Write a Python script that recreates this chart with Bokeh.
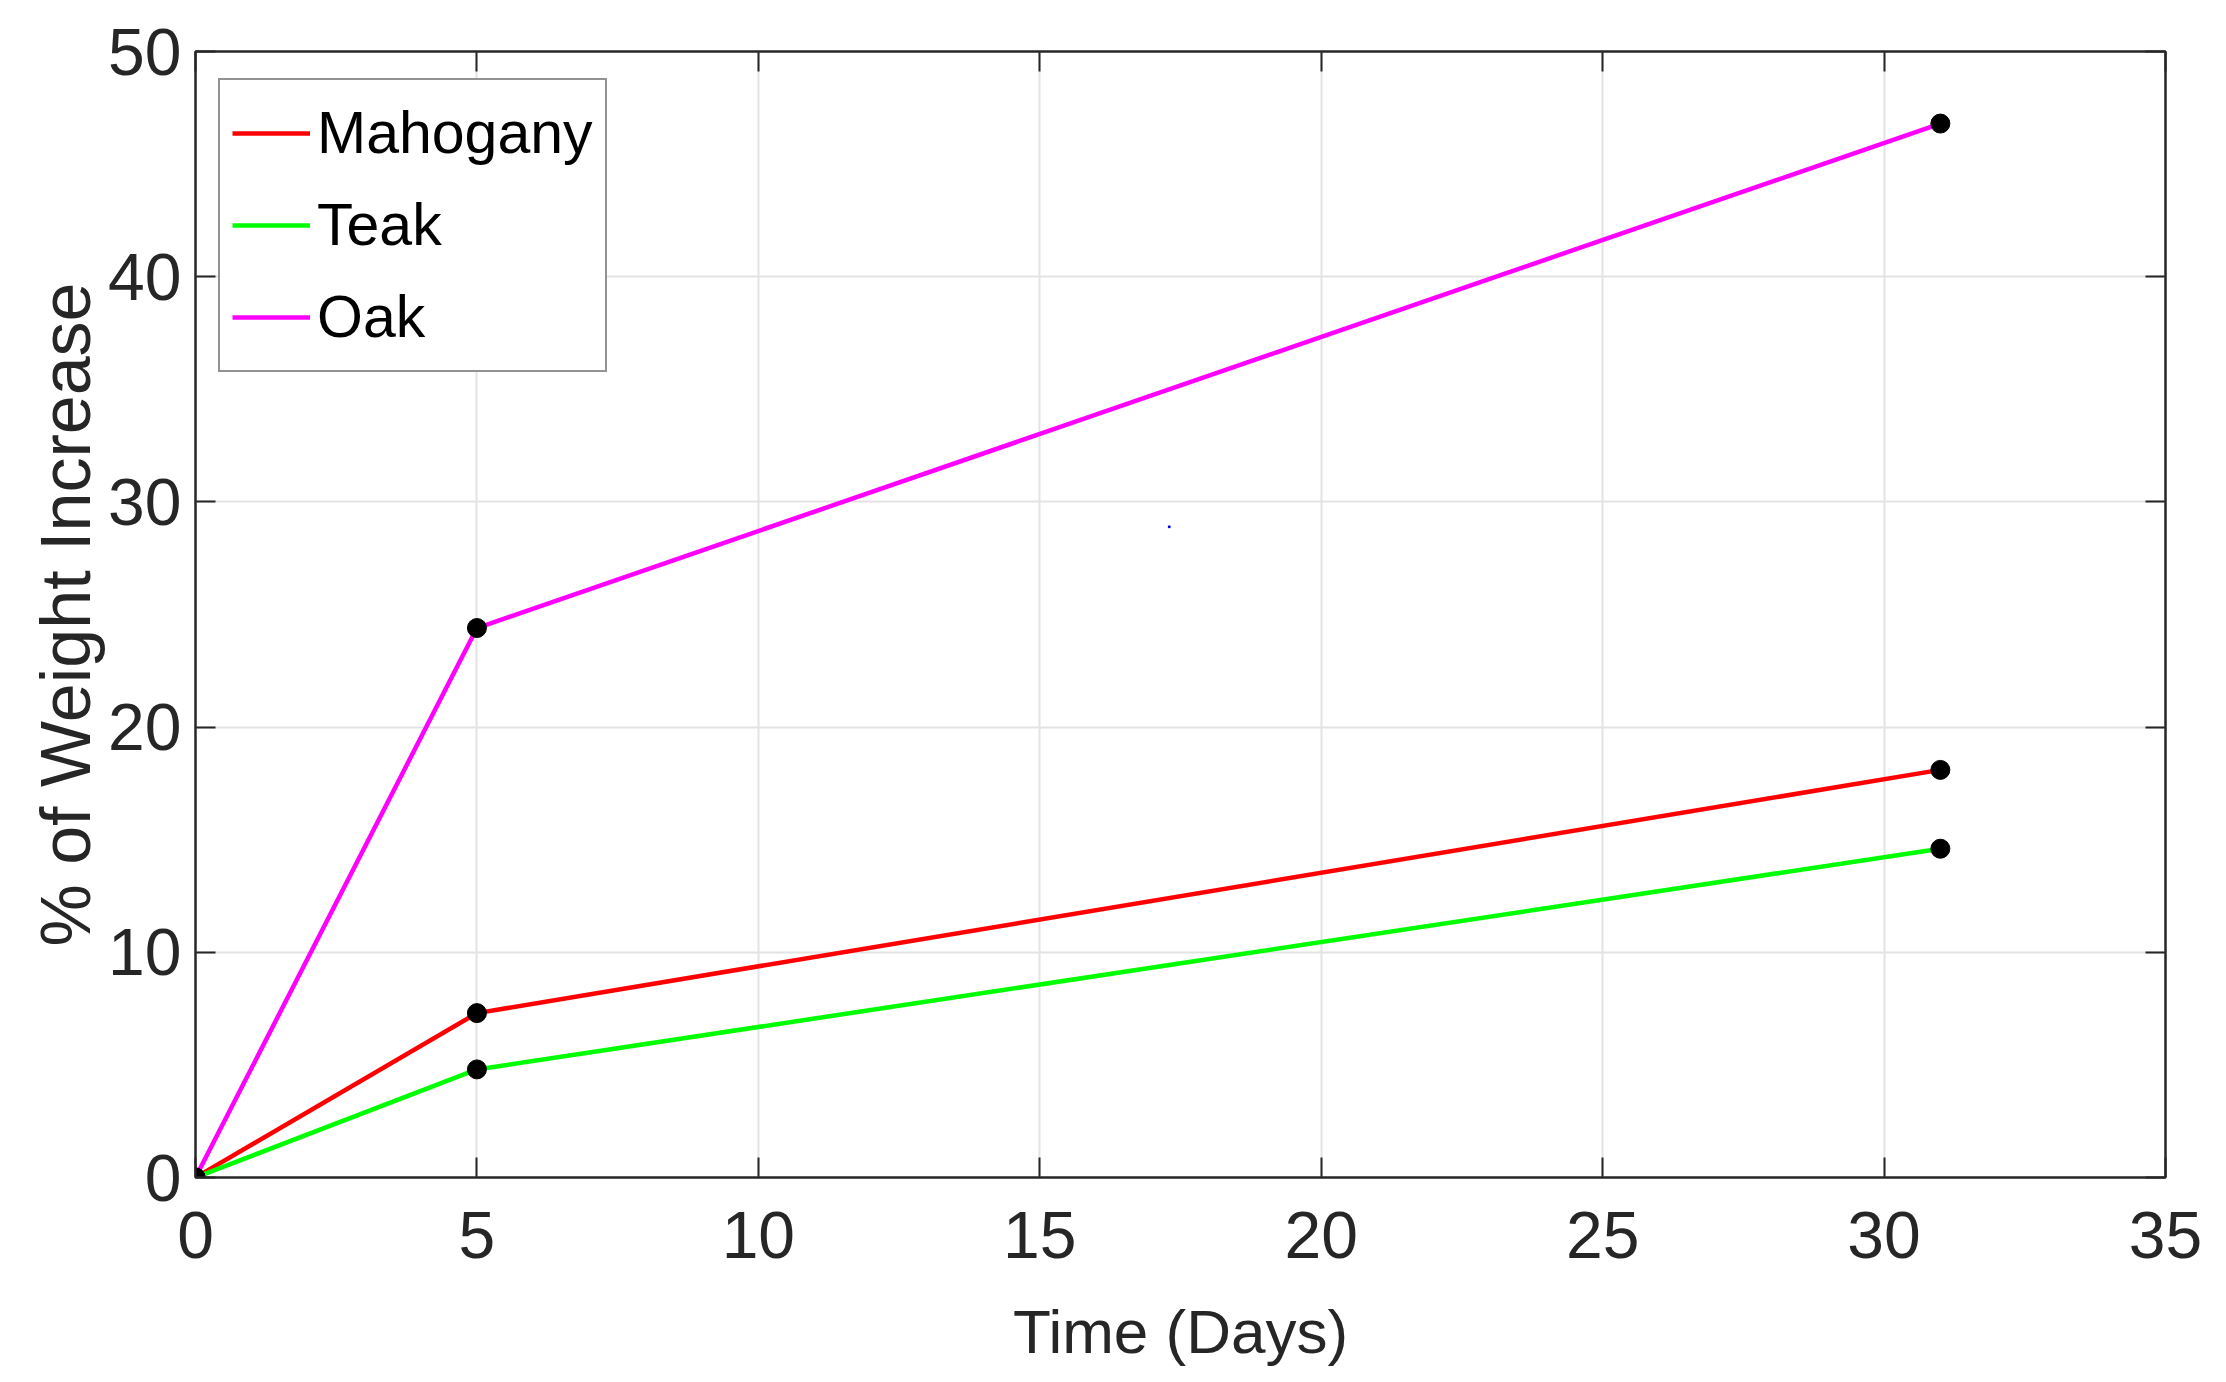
from bokeh.plotting import figure
from bokeh.models import Range1d, LinearAxis, FixedTicker, Legend, LegendItem, CustomLabelingPolicy
from bokeh.embed import file_html
from bokeh.resources import INLINE

days = [0, 5, 31]
mahogany = [0, 7.3, 18.1]
teak = [0, 4.8, 14.6]
oak = [0, 24.4, 46.8]
stray_x = [17.3]
stray_y = [28.9]
x_ticks = [0, 5, 10, 15, 20, 25, 30, 35]
y_ticks = [0, 10, 20, 30, 40, 50]

FONT = "Liberation Sans"
DARK = "#262626"

p = figure(frame_width=1970, frame_height=1126, output_backend="svg", toolbar_location=None,
           x_range=Range1d(0, 35), y_range=Range1d(0, 50),
           min_border_left=195, min_border_right=40, min_border_top=51, min_border_bottom=190)
p.outline_line_color = DARK
p.outline_line_width = 2

r1 = p.line(days, mahogany, line_color="#ff0000", line_width=4.5)
r2 = p.line(days, teak, line_color="#00ff00", line_width=4.5)
r3 = p.line(days, oak, line_color="#ff00ff", line_width=4.5)
for ys in (mahogany, teak, oak):
    p.scatter(days, ys, size=19, fill_color="black", line_color="black")
p.scatter(stray_x, stray_y, size=3, fill_color="blue", line_color=None)

for ax in (p.xaxis[0], p.yaxis[0]):
    ax.major_tick_in = 20
    ax.major_tick_out = 0
    ax.minor_tick_in = 0
    ax.minor_tick_out = 0
    ax.axis_line_color = DARK
    ax.axis_line_width = 2
    ax.major_tick_line_color = DARK
    ax.major_tick_line_width = 2
    ax.major_label_text_font = FONT
    ax.major_label_text_font_size = "66px"
    ax.major_label_text_color = DARK
    ax.axis_label_text_font = FONT
    ax.axis_label_text_font_style = "normal"
    ax.axis_label_text_color = DARK

p.xaxis[0].ticker = FixedTicker(ticks=x_ticks)
p.yaxis[0].ticker = FixedTicker(ticks=y_ticks)
p.xaxis[0].axis_label = "Time (Days)"
p.yaxis[0].axis_label = "% of Weight Increase"
p.xaxis[0].axis_label_text_font_size = "62px"
p.yaxis[0].axis_label_text_font_size = "70px"
p.xaxis[0].major_label_standoff = 34
p.yaxis[0].major_label_standoff = 14
p.xaxis[0].axis_label_standoff = 36
p.yaxis[0].axis_label_standoff = 0

hide = CustomLabelingPolicy(code="""
try { for (const i of Array.from(indices)) { indices.unset(i) } } catch (e) {}
return indices
""")
top = LinearAxis(ticker=FixedTicker(ticks=x_ticks), major_label_policy=hide,
                 major_label_text_font_size="0px",
                 major_tick_in=20, major_tick_out=0, minor_tick_in=0, minor_tick_out=0,
                 axis_line_color=DARK, axis_line_width=2, major_tick_line_color=DARK,
                 major_tick_line_width=2, major_label_standoff=0)
right = LinearAxis(ticker=FixedTicker(ticks=y_ticks), major_label_policy=hide,
                   major_label_text_font_size="0px",
                   major_tick_in=20, major_tick_out=0, minor_tick_in=0, minor_tick_out=0,
                   axis_line_color=DARK, axis_line_width=2, major_tick_line_color=DARK,
                   major_tick_line_width=2, major_label_standoff=0)
p.add_layout(top, "above")
p.add_layout(right, "right")

p.xgrid.ticker = FixedTicker(ticks=x_ticks)
p.ygrid.ticker = FixedTicker(ticks=y_ticks)
p.grid.grid_line_color = "#e3e3e3"
p.grid.grid_line_width = 2

legend = Legend(items=[LegendItem(label="Mahogany", renderers=[r1]),
                       LegendItem(label="Teak", renderers=[r2]),
                       LegendItem(label="Oak", renderers=[r3])],
                location=(23, 805))
legend.label_text_font = FONT
legend.label_text_font_size = "59px"
legend.label_text_color = "black"
legend.border_line_color = DARK
legend.border_line_width = 2
legend.glyph_width = 78
legend.glyph_height = 82
legend.label_height = 82
legend.spacing = 10
legend.padding = 12
legend.margin = 0
legend.label_standoff = 7
legend.background_fill_alpha = 1
p.add_layout(legend)

open("out.html", "w").write(file_html(p, INLINE))
